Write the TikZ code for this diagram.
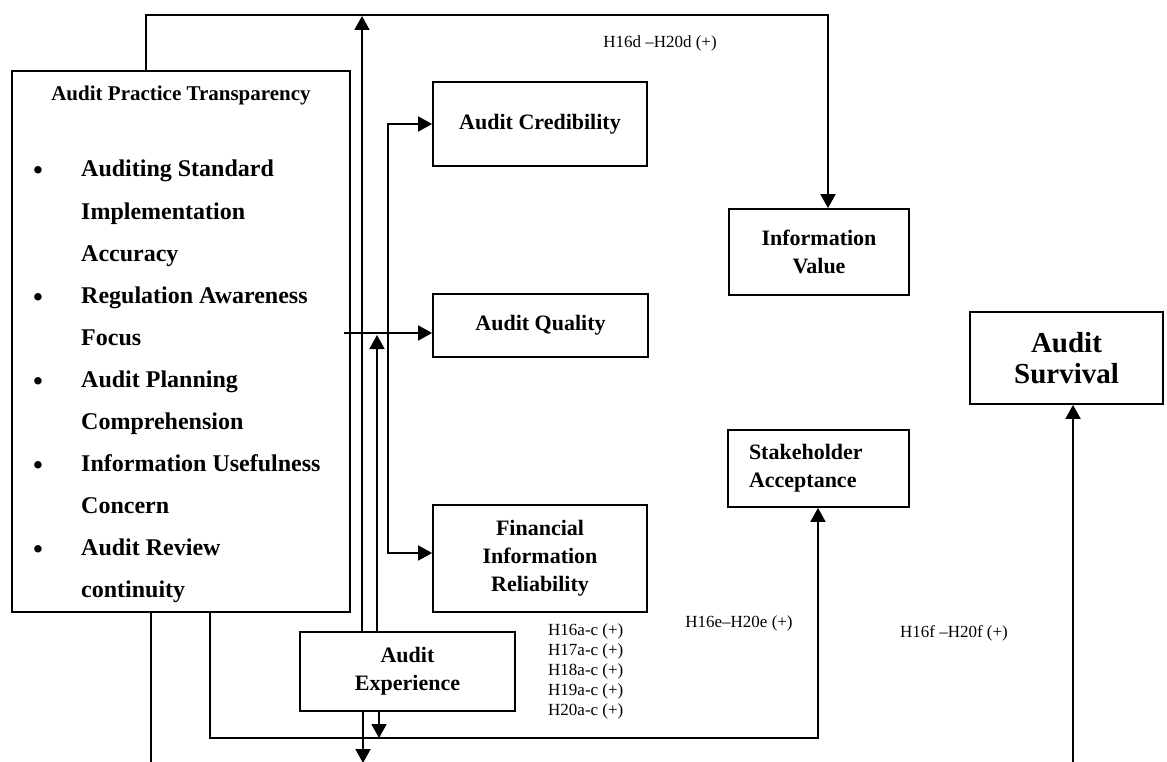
\documentclass[tikz,border=0pt]{standalone}
\usepackage{fontspec}
\setmainfont{Liberation Serif}
\usetikzlibrary{arrows.meta}
\begin{document}
\begin{tikzpicture}[x=1pt,y=-1pt,
  box/.style={draw, line width=1.8pt, inner sep=0pt, align=center,
    font=\fontsize{22}{28}\selectfont\bfseries},
  link/.style={line width=1.8pt},
  tip/.tip={Triangle[length=14pt,width=15pt]},
  arr/.style={link, -tip},
  hyp/.style={font=\fontsize{17}{20}\selectfont, inner sep=0pt, align=left},
  item/.style={font=\fontsize{24}{42}\selectfont\bfseries, inner sep=0pt, anchor=base west},
  dot/.style={font=\fontsize{31}{42}\selectfont, inner sep=0pt, anchor=base}]
\useasboundingbox (0,0) rectangle (1167,762);

% Audit practice transparency and its dimensions
\node[box, minimum width=338pt, minimum height=541pt] (apt) at (181,341.5) {};
\node[font=\fontsize{21}{25}\selectfont\bfseries, inner sep=0pt, anchor=base] (apttitle) at (181,101) {Audit Practice Transparency};
\foreach \yy/\txt in {177/Auditing Standard, 219/Implementation, 261/Accuracy,
    303/Regulation Awareness, 345/Focus, 387/Audit Planning, 429/Comprehension,
    471/Information Usefulness, 513/Concern, 555/Audit Review, 597/continuity}
  \node[item] (line\yy) at (81,\yy) {\txt};
\foreach \yy in {177,303,387,471,555}
  \node[dot] (bul\yy) at (38,\yy+4) {\textbullet};

% Outcome constructs
\node[box, minimum width=214pt, minimum height=84pt] (cred) at (540,124) {Audit Credibility};
\node[box, minimum width=215pt, minimum height=63pt] (quality) at (540.5,325.5) {Audit Quality};
\node[box, minimum width=214pt, minimum height=107pt] (fin) at (540,558.5) {Financial\\Information\\Reliability};
\node[box, minimum width=180pt, minimum height=86pt] (value) at (819,252) {Information\\Value};
\node[box, minimum width=181pt, minimum height=77pt, text width=139pt, align=left] (stake) at (818.5,468.5) {Stakeholder\\Acceptance};
\node[box, minimum width=193pt, minimum height=92pt, font=\fontsize{29}{31}\selectfont\bfseries] (surv) at (1066.5,358) {Audit\\Survival};
\node[box, minimum width=215pt, minimum height=79pt] (exp) at (407.5,671.5) {Audit\\Experience};

% Routing points
\coordinate (topL) at (146,15);
\coordinate (topR) at (828,15);
\coordinate (upA) at (362,16);
\coordinate (upB) at (377,335);
\coordinate (brT) at (388,124);
\coordinate (brB) at (388,553);
\coordinate (qs) at (344,333);
\coordinate (botL) at (210,738);
\coordinate (botR) at (818,738);
\coordinate (dn1) at (379,738);
\coordinate (dn2) at (363,763);
\coordinate (leftdn) at (151,765);
\coordinate (survin) at (1073,765);

% Connectors
\draw[arr] (apt.north -| topL) -- (topL) -- (topR) -- (topR |- value.north);
\draw[arr] (upA |- exp.north) -- (upA);
\draw[arr] (upB |- exp.north) -- (upB);
\draw[link, tip-tip] (cred.west) -- (brT) -- (brB) -- (brB -| fin.west);
\draw[arr] (qs) -- (qs -| quality.west);
\draw[arr] (botL |- apt.south) -- (botL) -- (botR) -- (botR |- stake.south);
\draw[arr] (dn1 |- exp.south) -- (dn1);
\draw[arr] (dn2 |- exp.south) -- (dn2);
\draw[link] (leftdn |- apt.south) -- (leftdn);
\draw[arr] (survin) -- (survin |- surv.south);

% Hypothesis labels
\node[hyp] (hD) at (660,43) {H16d –H20d (+)};
\node[hyp, anchor=west] (hA) at (548,671) {H16a-c (+)\\H17a-c (+)\\H18a-c (+)\\H19a-c (+)\\H20a-c (+)};
\node[hyp] (hE) at (739,623) {H16e–H20e (+)};
\node[hyp] (hF) at (954,633) {H16f –H20f (+)};
\end{tikzpicture}
\end{document}
